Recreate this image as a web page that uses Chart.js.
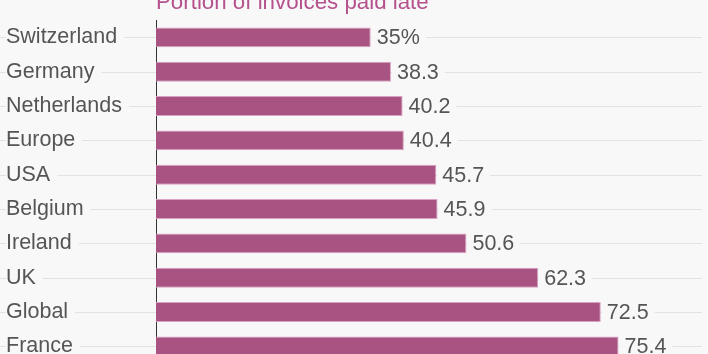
<!DOCTYPE html>
<html>
<head>
<meta charset="utf-8">
<script src="https://cdn.jsdelivr.net/npm/chart.js@4/dist/chart.umd.min.js"></script>
<style>
  html, body { margin: 0; padding: 0; background: #f8f8f8; overflow: hidden; width: 708px; height: 354px; }
  #wrap { position: absolute; left: 0; top: 0; width: 708px; height: 370px; }
</style>
</head>
<body>
<div id="wrap"><canvas id="c" width="708" height="370"></canvas></div>
<script>
const chartTitle = 'Portion of invoices paid late';
const categories = ['Switzerland', 'Germany', 'Netherlands', 'Europe', 'USA', 'Belgium', 'Ireland', 'UK', 'Global', 'France'];
const values = [35, 38.3, 40.2, 40.4, 45.7, 45.9, 50.6, 62.3, 72.5, 75.4];
const valueLabels = ['35%', '38.3', '40.2', '40.4', '45.7', '45.9', '50.6', '62.3', '72.5', '75.4'];

const BG = '#f8f8f8';
const FONT_FAMILY = '"Liberation Sans", Arial, Helvetica, sans-serif';
const TEXT_COLOR = '#555555';

const decor = {
  id: 'decor',
  beforeDraw(chart) {
    const ctx = chart.ctx;
    const ys = chart.scales.y;
    ctx.save();
    ctx.strokeStyle = '#e2e2e2';
    ctx.lineWidth = 1;
    categories.forEach((c, i) => {
      const py = Math.round(ys.getPixelForValue(i)) + 0.5;
      ctx.beginPath();
      ctx.moveTo(0, py);
      ctx.lineTo(chart.chartArea.right, py);
      ctx.stroke();
    });
    ctx.restore();
  },
  afterDatasetsDraw(chart) {
    const ctx = chart.ctx;
    const meta = chart.getDatasetMeta(0);
    ctx.save();
    ctx.font = '21.5px ' + FONT_FAMILY;
    ctx.textBaseline = 'middle';
    ctx.textAlign = 'left';
    meta.data.forEach((bar, i) => {
      const txt = valueLabels[i];
      const w = ctx.measureText(txt).width;
      ctx.fillStyle = BG;
      ctx.fillRect(bar.x + 1, bar.y - 9, w + 11, 18);
      ctx.fillStyle = TEXT_COLOR;
      ctx.fillText(txt, bar.x + 6, bar.y + 1);
    });
    // title (partially cut off at the top, as in the reference)
    ctx.font = '22.3px ' + FONT_FAMILY;
    ctx.textBaseline = 'alphabetic';
    ctx.fillStyle = '#b5518c';
    ctx.fillText(chartTitle, chart.chartArea.left, 9);
    ctx.restore();
  }
};

new Chart(document.getElementById('c'), {
  type: 'bar',
  data: {
    labels: categories,
    datasets: [{
      data: values,
      backgroundColor: '#a85382',
      borderColor: '#d9a2c2',
      borderWidth: 1,
      borderSkipped: 'start',
      barPercentage: 0.58,
      categoryPercentage: 1
    }]
  },
  options: {
    indexAxis: 'y',
    responsive: false,
    animation: false,
    devicePixelRatio: 1,
    layout: { padding: { top: 20.2, bottom: 6.5, left: 6, right: 6 } },
    plugins: { legend: { display: false }, tooltip: { enabled: false }, title: { display: false } },
    scales: {
      x: {
        display: false,
        min: 0,
        max: 89
      },
      y: {
        position: 'left',
        afterFit(scale) {
          scale.width = 150;
          scale.paddingTop = 0;
          scale.paddingBottom = 0;
        },
        grid: { display: false },
        border: { display: true, color: '#333333', width: 1 },
        ticks: {
          autoSkip: false,
          crossAlign: 'far',
          padding: 0,
          color: TEXT_COLOR,
          font: { size: 21.5, family: FONT_FAMILY },
          showLabelBackdrop: true,
          backdropColor: BG,
          backdropPadding: { left: 6, right: 7, top: 2, bottom: 2 }
        }
      }
    }
  },
  plugins: [decor]
});
</script>
</body>
</html>
